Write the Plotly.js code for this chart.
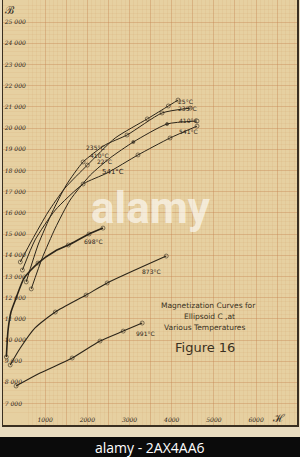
<!DOCTYPE html>
<html><head><meta charset="utf-8">
<script src="https://cdn.plot.ly/plotly-3.0.1.min.js"></script>
<style>html,body{margin:0;padding:0;background:#e9dcc0;}#chart{width:300px;height:457px;}</style>
</head><body><div id="chart"></div>
<script>
// ---- data (H in gauss-oersted units, B in gauss) ----
const H25 = [410, 690, 1070, 1470, 2000, 2660, 3420, 3920, 4150];
const B25 = [13680, 14720, 16040, 17170, 18250, 19530, 20430, 21040, 21320];
const M25 = [0, 4, 6, 7, 8];

const H235 = [550, 830, 1170, 1500, 1900, 2420, 2940, 3770, 4440];
const B235 = [12740, 14480, 16040, 17310, 18400, 19200, 19670, 20710, 20940];
const M235 = [0, 4, 6, 7, 8];

const H410 = [670, 930, 1240, 1590, 2070, 2540, 3090, 3890, 4600];
const B410 = [12410, 13870, 15280, 16600, 17780, 18590, 19340, 20190, 20330];
const M410 = [0, 6, 7, 8];
const F410 = [6, 7];

const H541 = [460, 760, 1240, 1900, 2470, 3200, 3960, 4600];
const B541 = [13300, 14720, 16130, 17360, 17880, 18730, 19530, 20090];
const M541 = [0, 3, 5, 6, 7];

const H698 = [80, 120, 190, 310, 500, 830, 1240, 1550, 2040, 2370];
const B698 = [9200, 10470, 11320, 11980, 12920, 13630, 14200, 14480, 15000, 15280];
const M698 = [0, 5, 7, 8, 9];

const H873 = [170, 410, 760, 1240, 1970, 2470, 3870];
const B873 = [8820, 9620, 10570, 11320, 12120, 12690, 13960];
const M873 = [0, 3, 4, 5, 6];

const H991 = [310, 880, 1640, 2300, 2850, 3300];
const B991 = [7830, 8440, 9150, 9950, 10420, 10800];
const M991 = [0, 2, 3, 4, 5];

const xTickVals = [0, 500, 1000, 1500, 2000, 2500, 3000, 3500, 4000, 4500, 5000, 5500, 6000, 6500];
const xTickText = ['', '', '1000', '', '2000', '', '3000', '', '4000', '', '5000', '', '6000', ''];
const yTickVals = [7000, 8000, 9000, 10000, 11000, 12000, 13000, 14000, 15000, 16000, 17000, 18000, 19000, 20000, 21000, 22000, 23000, 24000, 25000];
const yTickText = ['7 000', '8 000', '9 000', '10 000', '11 000', '12 000', '13 000', '14 000', '15 000', '16 000', '17 000', '18 000', '19 000', '20 000', '21 000', '22 000', '23 000', '24 000', '25 000'];

const ink = '#2b2419';
function curve(H, B, marks, width, filled) {
  const fill = filled || [];
  const sizes = H.map((_, i) => marks.includes(i) ? (fill.includes(i) ? 3 : 4) : 0);
  const symbols = H.map((_, i) => fill.includes(i) ? 'circle' : 'circle-open');
  return {
    x: H, y: B, mode: 'lines+markers', type: 'scatter',
    line: {color: ink, width: width, shape: 'spline', smoothing: 0.6},
    marker: {size: sizes, symbol: symbols, color: ink, line: {width: 0.8, color: ink}},
    hoverinfo: 'skip', showlegend: false
  };
}
const traces = [
  curve(H25, B25, M25, 1.0),
  curve(H235, B235, M235, 1.0),
  curve(H410, B410, M410, 1.0, F410),
  curve(H541, B541, M541, 1.0),
  curve(H698, B698, M698, 1.6),
  curve(H873, B873, M873, 1.1),
  curve(H991, B991, M991, 1.1)
];

// pixel helpers for annotation placement only
const pxH = px => (px - 2.8) * 23.697;
const pxB = py => 25000 - (py - 22) * 47.17;
const lab = (txt, px, py, size) => ({text: txt, x: pxH(px), y: pxB(py), xref: 'x', yref: 'y', showarrow: false,
  font: {family: 'DejaVu Sans', size: size || 6, color: ink}, xanchor: 'center', yanchor: 'middle'});

const annotations = [
  {text: 'alamy', x: pxH(151), y: pxB(208), xref: 'x', yref: 'y', showarrow: false,
   font: {family: 'Roboto', size: 44, weight: 700, color: 'rgba(255,255,255,0.62)'}},
  lab('25°C', 185, 101), lab('235°C', 187, 108), lab('410°C', 188, 120), lab('541°C', 188, 131),
  lab('235°C', 95, 147), lab('410°C', 99, 155), lab('22°C', 104, 161), lab('541°C', 113, 172, 7),
  lab('698°C', 93, 241), lab('873°C', 151, 271), lab('991°C', 145, 333),
  {text: 'Magnetization Curves for', x: pxH(208), y: pxB(305), xref: 'x', yref: 'y', showarrow: false,
   font: {family: 'DejaVu Sans', size: 7.5, color: '#3a3122'}},
  {text: 'Ellipsoid C ,at', x: pxH(209), y: pxB(316), xref: 'x', yref: 'y', showarrow: false,
   font: {family: 'DejaVu Sans', size: 7.5, color: '#3a3122'}},
  {text: 'Various Temperatures', x: pxH(204), y: pxB(327), xref: 'x', yref: 'y', showarrow: false,
   font: {family: 'DejaVu Sans', size: 7.5, color: '#3a3122'}},
  {text: 'Figure 16', x: pxH(205), y: pxB(347), xref: 'x', yref: 'y', showarrow: false,
   font: {family: 'DejaVu Sans', size: 13, color: '#3a3122'}},
  {text: 'ℬ', x: pxH(10), y: pxB(10), xref: 'x', yref: 'y', showarrow: false,
   font: {family: 'DejaVu Serif', size: 11, color: ink}},
  {text: 'ℋ', x: pxH(278), y: pxB(419), xref: 'x', yref: 'y', showarrow: false,
   font: {family: 'DejaVu Serif', size: 11, color: ink}},
  {text: 'alamy - 2AX4AA6', x: 0.5, y: -0.052, xref: 'paper', yref: 'paper', showarrow: false,
   font: {family: 'Open Sans', size: 14, color: '#ffffff'}, xanchor: 'center', yanchor: 'middle'}
];

const gridMinor = 'rgba(200,140,90,0.16)';
const gridMajor = 'rgba(195,125,75,0.30)';

const layout = {
  width: 300, height: 457,
  margin: {l: 3, r: 3, t: 0, b: 32, pad: 0},
  paper_bgcolor: '#e9dcc0',
  plot_bgcolor: '#e6d0a1',
  xaxis: {
    range: [0, 6970], tickvals: xTickVals, ticktext: xTickText,
    ticklabelposition: 'inside', ticks: '', showgrid: true, gridcolor: gridMajor, gridwidth: 1,
    minor: {dtick: 100, showgrid: true, gridcolor: gridMinor, gridwidth: 0.6},
    tickfont: {family: 'DejaVu Serif', size: 6, style: 'italic', color: ink},
    showline: true, linecolor: '#3a2f20', linewidth: 1.5, mirror: true, zeroline: false, fixedrange: true
  },
  yaxis: {
    range: [5990, 26040], tickvals: yTickVals, ticktext: yTickText,
    ticklabelposition: 'inside', ticks: '', showgrid: true, gridcolor: gridMajor, gridwidth: 1,
    minor: {dtick: 200, showgrid: true, gridcolor: gridMinor, gridwidth: 0.6},
    tickfont: {family: 'DejaVu Serif', size: 6, style: 'italic', color: ink},
    showline: true, linecolor: '#3a2f20', linewidth: 1.5, mirror: true, zeroline: false, fixedrange: true
  },
  shapes: [
    {type: 'rect', xref: 'paper', yref: 'paper', x0: -0.02, x1: 1.02, y0: -0.0753, y1: -0.0282,
     fillcolor: '#0b0b0b', line: {width: 0}}
  ],
  annotations: annotations
};

Plotly.newPlot('chart', traces, layout, {displayModeBar: false, staticPlot: true});
</script></body></html>
